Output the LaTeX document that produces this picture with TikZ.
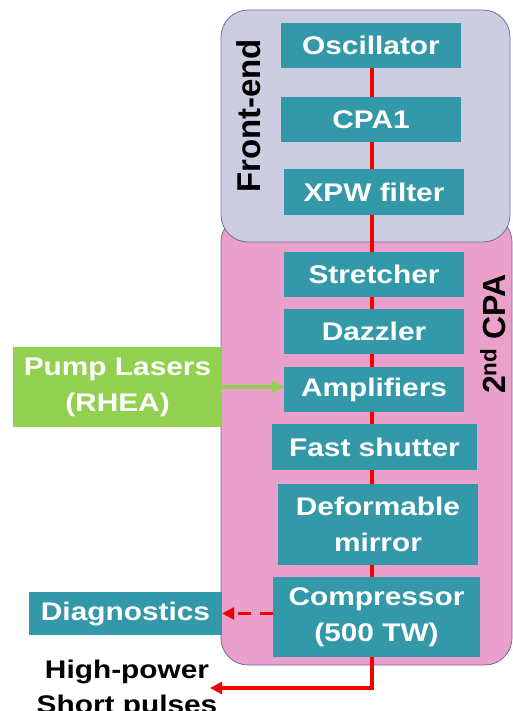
\documentclass[tikz,border=0pt]{standalone}
\usepackage{fontspec}
\newfontfamily\boxfont{Liberation Sans}[FakeStretch=1.17]
\newfontfamily\labfont{Liberation Sans}
\usetikzlibrary{arrows.meta}
\definecolor{boxteal}{HTML}{3399A8}
\definecolor{frontfill}{HTML}{CDCDE2}
\definecolor{cpafill}{HTML}{E9A0CA}
\definecolor{groupedge}{HTML}{6E6E9E}
\definecolor{pumpgreen}{HTML}{92D050}
\definecolor{beamred}{HTML}{F00000}
\begin{document}
\begin{tikzpicture}[x=1pt,y=-1pt,
  stage/.style={fill=boxteal, text=white, font=\boxfont\bfseries\fontsize{25.5}{36}\selectfont, align=center, inner sep=0pt},
  group/.style={draw=groupedge, line width=0.8pt, rounded corners=27pt, inner sep=0pt},
  grouplabel/.style={rotate=90, inner sep=0pt, font=\labfont\bfseries\fontsize{33}{33}\selectfont},
  beam/.style={draw=beamred, line width=3.8pt},
  tip/.style={-{Triangle[length=12pt,width=12pt]}}
]
\useasboundingbox (0,0) rectangle (513,711);
% groups
\node[group, fill=cpafill, minimum width=291pt, minimum height=450pt] (cpa) at (366.5,440) {};
\node[group, fill=frontfill, minimum width=289pt, minimum height=232pt] (front) at (365.5,126) {};
\node[grouplabel] (felabel) at (248.5,116) {Front-end};
\node[grouplabel, font=\labfont\bfseries\fontsize{32}{32}\selectfont] (cpalabel) at (493,334) {2\textsuperscript{nd} CPA};
% stages
\node[stage, minimum width=180pt, minimum height=45pt] (osc) at (371,45.5) {Oscillator};
\node[stage, minimum width=180pt, minimum height=45pt] (cpa1) at (371,119.5) {CPA1};
\node[stage, minimum width=180pt, minimum height=46pt] (xpw) at (374,192) {XPW filter};
\node[stage, minimum width=180pt, minimum height=45pt] (str) at (374,274.5) {Stretcher};
\node[stage, minimum width=180pt, minimum height=45pt] (daz) at (374,331.5) {Dazzler};
\node[stage, minimum width=180pt, minimum height=45pt] (amp) at (374,389.5) {Amplifiers};
\node[stage, minimum width=205pt, minimum height=46pt] (fast) at (374.5,447) {Fast shutter};
\node[stage, minimum width=200pt, minimum height=81pt] (dm) at (378,524.5) {Deformable\\mirror};
\node[stage, minimum width=207pt, minimum height=80pt] (comp) at (376.5,617) {Compressor\\(500 TW)};
\node[stage, minimum width=193pt, minimum height=43pt] (diag) at (125.5,613.5) {Diagnostics};
\node[stage, fill=pumpgreen, minimum width=209pt, minimum height=80pt] (pump) at (117.5,387) {Pump Lasers\\(RHEA)};
\node[font=\boxfont\bfseries\fontsize{25.5}{35}\selectfont, align=center, anchor=north, inner sep=0pt] (hp) at (127,660) {High-power\\Short pulses};
% beam
\coordinate (bx) at (372,0);
\coordinate (outend) at (210,688);
\draw[beam] (osc.south -| bx) -- (cpa1.north -| bx);
\draw[beam] (cpa1.south -| bx) -- (xpw.north -| bx);
\draw[beam] (xpw.south -| bx) -- (str.north -| bx);
\draw[beam] (str.south -| bx) -- (daz.north -| bx);
\draw[beam] (daz.south -| bx) -- (amp.north -| bx);
\draw[beam] (amp.south -| bx) -- (fast.north -| bx);
\draw[beam] (fast.south -| bx) -- (dm.north -| bx);
\draw[beam] (dm.south -| bx) -- (comp.north -| bx);
\draw[beam, tip, line join=miter] (comp.south -| bx) |- (outend);
\draw[beam, tip, dash pattern=on 13pt off 9pt] (comp.west |- diag.east) -- (diag.east);
\draw[draw=pumpgreen, line width=3.5pt, tip] (pump.east) -- (pump.east -| amp.west);
\end{tikzpicture}
\end{document}
